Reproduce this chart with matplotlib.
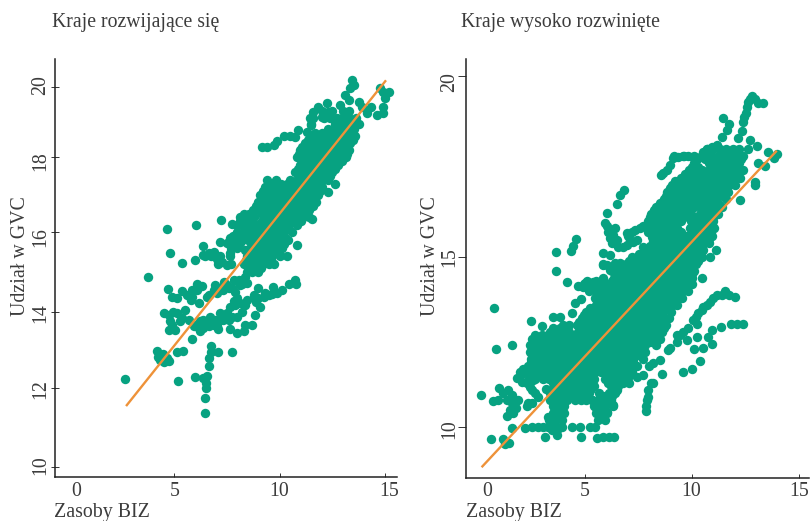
import matplotlib
matplotlib.use("Agg")
import matplotlib.pyplot as plt
import numpy as np

# Lewy panel: punkty
left_x = [2.7, 3.8, 4.68, 4.81, 5.38, 6.0, 6.06, 7.22, 7.74, 7.18, 6.36, 7.76, 5.19, 6.0, 6.48, 6.48, 6.53, 6.53,
          6.59, 6.37, 6.67, 6.67, 6.77, 6.77, 7.11, 5.85, 5.14, 5.43, 4.2, 4.5, 4.23, 4.35, 4.51, 4.67, 4.75,
          4.51, 4.75, 4.83, 4.75, 5.06, 4.9, 4.72, 4.9, 5.14, 5.38, 5.6, 5.85, 5.8, 6.17, 6.09, 6.33, 6.57, 6.96,
          7.03, 7.35, 7.59, 7.82, 8.14, 8.38, 8.45, 7.9, 7.3, 5.14, 5.38, 5.7, 5.54, 5.93, 6.25, 6.05, 6.4, 6.72,
          6.64, 7.03, 7.11, 6.96, 7.19, 7.5, 7.67, 7.82, 7.98, 7.67, 7.98, 8.3, 8.38, 8.69, 8.85, 7.59, 7.98,
          8.22, 8.38, 7.75, 7.3, 8.77, 9.0, 9.09, 8.9, 9.32, 9.7, 9.62, 10.13, 10.43, 10.74, 10.79, 9.16, 9.4,
          9.72, 9.87, 10.22, 10.5, 10.74, 10.85, 11.29, 11.5, 11.45, 11.6, 11.8, 12.24, 12.0, 12.3, 12.87, 13.1,
          13.34, 13.5, 13.42, 13.26, 13.74, 13.9, 14.13, 14.6, 14.9, 14.9, 15.0, 15.17, 14.73, 14.9, 14.3,
          12.6, 12.3, 11.53, 10.82]
left_y = [12.23, 14.88, 16.09, 15.48, 15.22, 15.29, 16.2, 16.32, 16.23, 15.75, 15.66, 12.96, 12.19, 12.29, 11.38,
          11.75, 12.0, 12.13, 12.32, 12.26, 12.58, 12.78, 12.96, 13.1, 12.96, 13.29, 12.94, 12.98, 12.98, 12.9,
          12.83, 12.75, 12.68, 12.79, 12.71, 13.97, 13.91, 13.77, 13.52, 13.52, 13.65, 14.56, 14.38, 14.34, 14.53,
          14.42, 14.55, 14.3, 14.21, 14.71, 14.64, 14.38, 14.67, 14.46, 14.76, 14.59, 14.8, 14.67, 14.88, 14.73,
          14.5, 14.55, 13.96, 13.83, 13.79, 14.04, 13.62, 13.5, 13.66, 13.79, 13.87, 13.62, 13.62, 13.54, 13.79,
          13.96, 13.96, 14.13, 14.26, 14.34, 13.54, 13.45, 13.5, 13.65, 13.65, 13.91, 13.79, 13.87, 14.0, 14.17,
          13.87, 13.79, 14.34, 14.59, 14.13, 14.25, 14.46, 14.63, 14.44, 14.55, 14.7, 14.8, 14.7, 18.29, 18.3,
          18.36, 18.47, 18.6, 18.6, 18.57, 18.77, 18.73, 18.92, 19.1, 19.29, 19.43, 19.53, 19.15, 19.29, 19.48,
          19.76, 19.95, 20.05, 20.19, 19.62, 19.58, 19.43, 19.25, 19.2, 19.25, 19.43, 19.67, 19.86, 19.97, 19.86,
          19.43, 17.3, 17.07, 16.35, 15.68]

# lancuchy miedzy pojedynczymi punktami
left_chain_x = [6.4, 6.64, 6.88, 7.03, 7.27, 7.51, 7.67, 7.82, 7.51, 7.67, 7.98, 8.14, 8.38, 8.61, 8.22, 8.53, 8.85,
                9.0, 8.3, 8.69, 6.64, 6.88, 7.19, 7.5, 7.74, 8.06, 8.22, 6.17, 6.4, 6.88, 6.56, 6.25, 7.19, 7.43,
                7.9, 8.14, 8.45, 9.0, 8.77, 9.24, 9.48, 9.87, 4.98, 5.3, 5.85, 6.09]
left_chain_y = [15.43, 15.47, 15.51, 15.34, 15.26, 15.18, 15.47, 15.64, 15.72, 15.85, 15.89, 15.72, 15.55, 16.06,
                16.37, 16.5, 16.6, 16.77, 16.14, 16.28, 14.42, 14.55, 14.59, 14.67, 14.59, 14.8, 14.71, 13.58, 13.58,
                13.66, 13.7, 13.75, 13.79, 13.92, 14.17, 14.21, 14.29, 14.34, 14.42, 14.38, 14.42, 14.48, 14.0,
                13.75, 14.38, 14.55]

left_band_y = [19.3, 19.1, 18.95, 18.8, 18.6, 18.4, 18.2, 18.0, 17.8, 17.6, 17.4, 17.2, 17.0, 16.8, 16.6, 16.4,
               16.2, 16.0, 15.8, 15.6, 15.4, 15.2, 15.0,
               18.7, 18.5, 18.3, 18.1, 17.9, 17.7, 17.5, 17.3, 17.1, 16.9, 16.7, 16.5, 16.3, 16.1, 15.9, 15.7,
               15.5, 15.3, 15.1]
left_band_x = [
    [12.0, 12.5, 13.0, 13.3],
    [11.6, 12.1, 12.4, 12.7, 13.0, 13.3, 13.6],
    [11.5, 12.6, 12.9, 13.2, 13.5, 13.75],
    [12.3, 12.6, 12.9, 13.2, 13.5],
    [11.5, 11.8, 12.1, 12.4, 12.7, 13.0, 13.3, 13.55],
    [11.2, 11.5, 11.8, 12.1, 12.4, 12.7, 13.0, 13.35],
    [10.95, 11.2, 11.5, 11.8, 12.1, 12.4, 12.7, 13.0, 13.3],
    [10.8, 11.05, 11.35, 11.65, 11.9, 12.2, 12.5, 12.8, 13.15],
    [10.95, 11.2, 11.5, 11.8, 12.1, 12.4, 12.75],
    [10.75, 11.0, 11.3, 11.6, 11.9, 12.2, 12.5],
    [9.4, 9.85, 10.5, 10.8, 11.1, 11.4, 11.7, 12.0, 12.3],
    [9.3, 9.6, 9.9, 10.2, 10.5, 10.8, 11.1, 11.4, 11.7, 12.0],
    [9.05, 9.35, 9.65, 9.95, 10.25, 10.55, 10.85, 11.15, 11.45, 11.8],
    [9.0, 9.3, 9.6, 9.9, 10.2, 10.5, 10.8, 11.1, 11.4, 11.7],
    [8.75, 9.05, 9.35, 9.65, 9.95, 10.25, 10.55, 10.85, 11.15, 11.4],
    [8.15, 8.45, 8.8, 9.3, 9.6, 9.9, 10.2, 10.5, 10.8, 11.1, 11.4],
    [8.0, 8.3, 8.6, 9.0, 9.3, 9.6, 9.9, 10.15, 10.45, 10.8],
    [8.0, 8.3, 8.6, 8.9, 9.2, 9.5, 9.8, 10.1, 10.6],
    [7.65, 7.9, 8.2, 8.5, 8.8, 9.1, 9.4, 9.7, 10.0, 10.4],
    [7.7, 8.0, 8.6, 8.9, 9.2, 9.5, 9.8, 10.1],
    [6.45, 6.75, 7.2, 7.65, 8.45, 8.75, 9.05, 9.35, 9.65, 10.0, 10.35],
    [7.1, 7.7, 8.3, 8.6, 8.9, 9.2, 9.5, 9.75],
    [8.45, 8.7, 9.0],
    [11.65, 12.0, 12.45, 12.75, 13.05, 13.35],
    [11.35, 11.65, 11.95, 12.25, 12.55, 12.85, 13.15, 13.45],
    [11.05, 11.35, 11.65, 11.95, 12.25, 12.55, 12.85, 13.15],
    [10.9, 11.2, 11.5, 11.8, 12.05, 12.35, 12.65, 12.95, 13.2],
    [11.1, 11.35, 11.65, 11.95, 12.25, 12.55, 12.95],
    [10.85, 11.1, 11.4, 11.7, 12.0, 12.3, 12.6],
    [10.9, 11.2, 11.5, 11.8, 12.1, 12.4],
    [9.45, 9.75, 10.05, 10.35, 10.65, 10.95, 11.25, 11.55, 11.85],
    [9.2, 9.5, 9.8, 10.1, 10.4, 10.7, 11.0, 11.3, 11.6, 11.9],
    [9.15, 9.45, 9.75, 10.05, 10.35, 10.65, 10.95, 11.25, 11.55],
    [8.9, 9.2, 9.5, 9.8, 10.1, 10.4, 10.7, 11.0, 11.3, 11.6],
    [8.3, 8.6, 9.15, 9.45, 9.75, 10.05, 10.35, 10.65, 10.95, 11.25],
    [8.15, 8.45, 9.15, 9.45, 9.75, 10.05, 10.35, 10.65, 11.0],
    [8.45, 8.75, 9.05, 9.35, 9.65, 9.95, 10.3],
    [7.8, 8.05, 8.35, 8.65, 8.95, 9.25, 9.55, 9.85, 10.2],
    [7.85, 8.75, 9.05, 9.35, 9.65, 9.95, 10.2],
    [8.55, 8.85, 9.15, 9.45, 9.75, 9.95],
    [8.4, 8.75, 9.05, 9.35, 9.6],
    [8.5, 8.8, 9.1],
]
left_fit_x = [2.74, 15.03]
left_fit_y = [11.55, 20.18]

# Prawy panel
right_x = [0.12, 0.72, 0.81, 1.56, 0.58, 1.16, 1.42, 1.25, 1.55, 3.1, 3.66, 4.78, 5.53, 5.84, 6.13, 6.34, 4.39,
           4.75, 5.22, 5.45, 2.17, 2.48, 2.8, 3.03, 3.27, 3.66, 3.42, 3.9, 2.47, 2.95, 3.06, 3.5, 3.81, 4.36, 3.58,
           3.61, 3.64, 4.16, 4.31, 4.44, 4.55, 4.64, 4.98, 5.38, 4.52, 4.78, 6.81, 6.63, 6.47, 6.0, 5.92, 6.39,
           6.08, 6.16, 6.47, 6.23, 5.84, 6.16, 5.81, 6.16, 5.84, 6.16, 6.94, 7.17, 7.56, 7.95, 8.19, 7.72, 7.09,
           7.41, 6.78, 8.53, 8.81, 9.13, 9.59, 10.06, 10.69, 11.16, 11.39, 11.63, 11.75, 11.45, 12.33, 12.41,
           12.52, 12.64, 12.83, 13.11, 13.31, 12.72, 13.03, 13.58, 13.97, 13.84, 13.42, 13.11, 12.95, 12.95, 12.25,
           12.0, 11.55, 11.39, 11.0, 10.69, 10.45, 10.17, 10.25, 9.83, 9.28, 9.28, 9.75, 10.25, 10.92, 10.77,
           10.95, 10.53, 10.11, 10.38, 9.98, 9.56, 11.34, 11.81, 12.09, 12.38, 8.97, 8.61, 8.5, 8.19, 7.84, 7.88,
           7.95, 8.19, 7.72, 7.05, 7.41, 1.78, 2.02, 2.25, 2.48, 2.8, 0.97, 1.39, 1.86, 0.69, 0.92, 1.31, 1.55,
           1.75, 1.34, 2.25, 2.48, 2.56, 3.16, 5.84, 5.53, 6.0, 6.31, 6.0, 6.47, 6.63, 5.69, 5.3, 4.59, 4.3, 3.97]
right_y = [10.94, 13.5, 12.3, 12.4, 9.64, 9.65, 9.53, 9.5, 9.97, 9.7, 9.75, 9.7, 9.68, 9.7, 9.7, 9.7, 10.0, 10.0,
           10.0, 10.0, 9.95, 10.0, 10.0, 10.0, 10.3, 10.0, 10.1, 10.0, 13.13, 12.98, 12.68, 13.25, 13.23, 13.35,
           12.76, 15.14, 14.6, 14.26, 15.16, 15.3, 15.5, 14.16, 14.23, 14.28, 13.64, 13.76, 16.86, 16.72, 16.46,
           16.21, 15.94, 15.8, 15.71, 15.52, 15.48, 15.39, 15.11, 15.06, 14.77, 14.63, 14.38, 14.13, 15.68, 15.71,
           15.8, 15.71, 15.46, 15.29, 15.48, 15.48, 15.29, 17.27, 17.41, 17.73, 17.78, 17.76, 18.0, 18.1, 18.33,
           18.51, 18.69, 18.85, 18.47, 18.74, 18.97, 19.29, 19.46, 19.26, 19.26, 18.24, 18.07, 17.91, 17.85, 17.73,
           17.52, 17.61, 17.0, 17.09, 16.58, 13.82, 14.02, 13.89, 13.79, 13.59, 13.44, 13.25, 13.03, 12.9, 12.7,
           12.5, 12.56, 12.64, 12.85, 12.66, 12.44, 12.31, 12.28, 11.95, 11.7, 11.6, 12.95, 13.03, 13.03, 13.03,
           12.33, 11.55, 11.97, 11.87, 10.6, 10.79, 11.08, 11.28, 11.53, 11.28, 11.48, 11.43, 11.57, 11.28, 11.08,
           10.89, 11.13, 11.08, 10.79, 10.77, 10.79, 10.79, 10.69, 10.54, 10.31, 10.61, 10.69, 11.38, 11.1, 10.3,
           10.5, 10.44, 10.64, 10.89, 11.08, 11.28, 10.89, 10.8, 10.89, 10.95, 10.79]

right_chain_x = [11.75, 11.16, 10.84, 10.53, 10.3, 10.06, 9.59, 9.44, 8.89, 7.95, 7.84, 8.06, 8.66, 8.97, 9.36, 9.83,
                 10.38, 10.53, 10.92, 12.17, 12.45, 12.56, 12.72, 12.95, 7.33, 7.72, 8.11, 7.02, 7.25, 6.94, 6.31,
                 6.0, 6.55, 6.0, 6.39, 6.63, 4.9, 5.22, 5.53, 5.69, 1.16, 1.55, 1.7, 2.02, 2.41, 2.64, 1.63, 1.47,
                 2.33, 3.27, 3.42, 3.66]
right_chain_y = [13.89, 13.89, 13.69, 13.52, 13.35, 13.15, 12.8, 12.7, 12.27, 10.89, 10.45, 11.28, 17.32, 17.55, 17.76,
                 17.78, 17.76, 17.91, 18.05, 18.28, 18.88, 19.14, 19.36, 19.36, 15.75, 15.85, 15.57, 15.59, 15.43,
                 15.34, 15.62, 15.85, 15.29, 14.77, 14.83, 14.83, 14.13, 14.08, 14.04, 14.23, 10.98, 10.94, 10.79,
                 11.33, 11.18, 10.98, 10.39, 10.49, 10.69, 10.0, 9.9, 9.9]

right_band_y = [18.0, 17.8, 17.6, 17.4, 17.2, 17.0, 16.8, 16.6, 16.4, 16.2, 16.0, 15.8, 15.6, 15.4, 15.2, 15.0,
                14.8, 14.6, 14.4, 14.2, 14.0, 13.8, 13.6, 13.4, 13.2, 13.0, 12.8, 12.6, 12.4, 12.2, 12.0, 11.8,
                11.6, 11.4, 11.2, 11.0, 10.8, 10.6, 10.4, 10.2,
                17.7, 17.5, 17.3, 17.1, 16.9, 16.7, 16.5, 16.3, 16.1, 15.9, 15.7, 15.5, 15.3, 15.1, 14.9, 14.7,
                14.5, 14.3, 14.1, 13.9, 13.7, 13.5, 13.3, 13.1, 12.9, 12.7, 12.5, 12.3, 12.1, 11.9, 11.7, 11.5,
                11.3, 11.1, 10.9, 10.7, 10.5, 10.3]
right_band_x = [
    [10.7, 11.0, 11.3, 11.6, 11.9, 12.2, 12.6],
    [9.15, 9.6, 10.1, 10.6, 10.9, 11.2, 11.5, 11.8, 12.1, 12.4],
    [10.1, 10.8, 11.05, 11.35, 11.65, 11.95, 12.2],
    [9.85, 10.15, 10.45, 10.8, 11.1, 11.4, 11.7, 12.0, 12.4],
    [9.5, 9.8, 10.1, 10.4, 10.7, 11.0, 11.3, 11.6, 11.9, 12.25],
    [9.05, 9.35, 9.65, 9.95, 10.25, 10.55, 10.85, 11.15, 11.45, 11.75, 12.0],
    [8.85, 9.15, 9.45, 9.75, 10.05, 10.35, 10.65, 10.95, 11.25, 11.7],
    [8.7, 9.0, 9.3, 9.6, 9.9, 10.2, 10.5, 10.8, 11.1, 11.6],
    [8.3, 8.6, 8.9, 9.2, 9.5, 9.8, 10.1, 10.4, 10.7, 11.0, 11.4],
    [8.1, 8.4, 8.7, 9.0, 9.3, 9.6, 9.95, 10.35, 10.65, 10.95, 11.2],
    [7.95, 8.25, 8.55, 8.85, 9.15, 9.5, 9.95, 10.25, 10.55, 10.85, 11.0],
    [8.2, 8.5, 8.8, 9.05, 9.3, 9.9, 10.2, 10.5, 10.8, 11.05],
    [8.55, 8.85, 9.15, 9.45, 9.75, 10.05, 10.35, 10.65, 10.95],
    [8.3, 8.6, 8.9, 9.2, 9.5, 9.8, 10.1, 10.4, 10.8],
    [7.8, 8.1, 8.4, 8.7, 9.0, 9.3, 9.6, 9.9, 10.2, 10.5, 11.1],
    [7.2, 7.5, 7.8, 8.1, 8.4, 8.7, 9.0, 9.3, 9.6, 9.9, 10.2, 10.45, 10.85],
    [5.85, 6.6, 6.9, 7.2, 7.5, 7.8, 8.1, 8.4, 8.7, 9.0, 9.3, 9.6, 9.9, 10.2],
    [6.25, 6.55, 6.85, 7.15, 7.45, 7.75, 8.05, 8.35, 8.65, 8.95, 9.25, 9.55, 9.85, 10.1],
    [6.35, 6.7, 7.0, 7.3, 7.6, 7.9, 8.2, 8.5, 8.8, 9.1, 9.4, 9.7, 10.0, 10.45],
    [4.95, 5.35, 5.65, 6.05, 6.4, 6.7, 7.0, 7.3, 7.6, 7.9, 8.2, 8.5, 8.8, 9.1, 9.4, 9.7, 10.0],
    [5.15, 5.5, 5.95, 6.25, 6.55, 6.85, 7.15, 7.45, 7.75, 8.05, 8.35, 8.65, 8.95, 9.25, 9.55, 9.8],
    [5.45, 5.75, 6.05, 6.35, 6.65, 6.95, 7.25, 7.55, 7.85, 8.15, 8.45, 8.75, 9.05, 9.35, 9.55],
    [5.5, 5.8, 6.1, 6.4, 6.7, 7.0, 7.3, 7.6, 7.9, 8.2, 8.5, 8.8, 9.1, 9.3],
    [5.05, 5.35, 5.65, 5.95, 6.25, 6.55, 6.85, 7.15, 7.45, 7.75, 8.05, 8.35, 8.65, 9.0],
    [4.85, 5.15, 5.45, 5.75, 6.05, 6.35, 6.65, 6.95, 7.25, 7.55, 7.85, 8.15, 8.45, 8.9],
    [3.95, 4.25, 4.6, 4.9, 5.2, 5.5, 5.8, 6.1, 6.4, 6.7, 7.0, 7.3, 7.6, 7.9, 8.2, 8.5, 8.8],
    [3.35, 3.65, 3.95, 4.25, 4.65, 4.95, 5.25, 5.55, 5.85, 6.15, 6.45, 6.75, 7.05, 7.35, 7.65, 7.95, 8.25, 8.6],
    [2.5, 2.8, 3.1, 3.4, 3.7, 4.0, 4.3, 4.6, 4.9, 5.2, 5.5, 5.8, 6.1, 6.4, 6.7, 7.0, 7.3, 7.6, 7.9, 8.2, 8.5],
    [2.4, 2.7, 3.0, 3.3, 3.6, 3.9, 4.2, 4.5, 4.8, 5.1, 5.4, 5.7, 6.0, 6.3, 6.6, 6.9, 7.2, 7.5, 7.8, 8.3],
    [2.4, 2.7, 3.0, 3.3, 3.6, 3.9, 4.2, 4.5, 4.8, 5.1, 5.4, 5.7, 6.0, 6.3, 6.6, 6.9, 7.2, 7.5, 7.8],
    [2.45, 2.75, 3.05, 3.35, 3.65, 3.95, 4.25, 4.55, 4.85, 5.15, 5.45, 5.75, 6.05, 6.35, 6.65, 6.95, 7.25, 7.7],
    [2.3, 2.6, 2.9, 3.2, 3.5, 3.8, 4.1, 4.4, 4.7, 5.0, 5.3, 5.6, 5.9, 6.2, 6.5, 6.8, 7.1, 7.4, 8.0],
    [1.95, 2.2, 2.6, 3.0, 3.35, 3.65, 3.95, 4.25, 4.55, 4.85, 5.15, 5.45, 5.75, 6.05, 6.35, 6.65, 6.9, 7.2],
    [2.35, 2.65, 3.0, 3.3, 3.6, 3.9, 4.2, 4.5, 4.8, 5.1, 5.4, 5.9, 6.1, 6.35, 6.6, 6.9],
    [3.65, 3.95, 4.25, 4.55, 4.85, 5.15, 5.4, 6.2, 6.55],
    [3.35, 3.65, 3.95, 4.25, 4.55, 4.85, 5.15, 5.65, 6.1, 6.4],
    [3.35, 3.65, 3.9, 4.15, 4.5, 4.8, 5.05, 5.3, 5.7, 5.95, 6.2],
    [3.5, 3.75, 4.0, 5.4, 5.65, 5.9, 6.3],
    [3.5, 3.75, 4.0, 5.5, 5.75, 6.0],
    [3.3, 3.6, 3.9, 5.6, 5.9],
    [10.25, 10.6, 10.95, 11.2, 11.5, 11.8, 12.1, 12.3],
    [10.0, 10.3, 10.95, 11.25, 11.55, 11.85, 12.1],
    [9.65, 9.95, 10.25, 10.55, 10.85, 11.15, 11.45, 11.75, 12.05],
    [9.2, 9.5, 9.8, 10.1, 10.4, 10.7, 11.0, 11.3, 11.6, 11.9],
    [8.95, 9.25, 9.55, 9.85, 10.15, 10.45, 10.75, 11.05, 11.35, 11.6],
    [8.8, 9.1, 9.4, 9.7, 10.0, 10.3, 10.6, 10.9, 11.2, 11.5],
    [8.5, 8.8, 9.1, 9.4, 9.7, 10.0, 10.3, 10.6, 10.9, 11.2],
    [8.2, 8.5, 8.8, 9.1, 9.4, 9.7, 10.45, 10.75, 11.05],
    [8.05, 8.35, 8.65, 8.95, 9.25, 9.6, 10.1, 10.4, 10.7, 11.0],
    [8.1, 8.4, 8.7, 8.95, 9.2, 10.05, 10.35, 10.65, 10.95],
    [8.35, 8.65, 8.95, 9.2, 9.5, 10.0, 10.3, 10.6, 10.9],
    [8.45, 8.75, 9.05, 9.35, 9.65, 9.95, 10.25, 10.55, 10.8],
    [8.05, 8.35, 8.65, 8.95, 9.25, 9.55, 9.85, 10.15, 10.45],
    [7.5, 7.95, 8.25, 8.55, 8.85, 9.15, 9.45, 9.75, 10.05, 10.35],
    [7.05, 7.35, 7.65, 7.95, 8.25, 8.55, 8.85, 9.15, 9.45, 9.75, 10.05, 10.3],
    [6.4, 6.7, 7.0, 7.3, 7.6, 7.9, 8.2, 8.5, 8.8, 9.1, 9.4, 9.7, 10.0],
    [6.4, 6.7, 7.0, 7.3, 7.6, 7.9, 8.2, 8.5, 8.8, 9.1, 9.4, 9.7, 10.0],
    [5.1, 5.5, 6.25, 6.55, 6.85, 7.15, 7.45, 7.75, 8.05, 8.35, 8.65, 8.95, 9.25, 9.55, 9.85],
    [5.3, 5.8, 6.1, 6.4, 6.7, 7.0, 7.3, 7.6, 7.9, 8.2, 8.5, 8.8, 9.1, 9.4, 9.7],
    [5.6, 5.9, 6.2, 6.5, 6.8, 7.1, 7.4, 7.7, 8.0, 8.3, 8.6, 8.9, 9.2, 9.45],
    [5.6, 5.95, 6.25, 6.55, 6.85, 7.15, 7.45, 7.75, 8.05, 8.35, 8.65, 8.95, 9.2],
    [5.2, 5.5, 5.8, 6.1, 6.4, 6.7, 7.0, 7.3, 7.6, 7.9, 8.2, 8.5, 8.85],
    [4.95, 5.25, 5.55, 5.85, 6.15, 6.45, 6.75, 7.05, 7.35, 7.65, 7.95, 8.25, 8.6],
    [4.7, 5.0, 5.3, 5.6, 5.9, 6.2, 6.5, 6.8, 7.1, 7.4, 7.7, 8.0, 8.3, 8.6],
    [3.5, 3.8, 4.1, 4.75, 5.05, 5.35, 5.65, 5.95, 6.25, 6.55, 6.85, 7.15, 7.45, 7.75, 8.05, 8.35, 8.7],
    [2.65, 2.95, 3.25, 3.55, 3.85, 4.15, 4.45, 4.75, 5.05, 5.35, 5.65, 5.95, 6.25, 6.55, 6.85, 7.15, 7.45, 7.75,
     8.05, 8.35],
    [2.55, 2.85, 3.15, 3.45, 3.75, 4.05, 4.35, 4.65, 4.95, 5.25, 5.55, 5.85, 6.15, 6.45, 6.75, 7.05, 7.35, 7.65,
     8.05],
    [2.55, 2.85, 3.15, 3.45, 3.75, 4.05, 4.35, 4.65, 4.95, 5.25, 5.55, 5.85, 6.15, 6.45, 6.75, 7.05, 7.35, 7.65],
    [2.55, 2.85, 3.15, 3.45, 3.75, 4.05, 4.35, 4.65, 4.95, 5.25, 5.55, 5.85, 6.15, 6.45, 6.75, 7.05, 7.35, 7.6],
    [2.45, 2.75, 3.05, 3.35, 3.65, 3.95, 4.25, 4.55, 4.85, 5.15, 5.45, 5.75, 6.05, 6.35, 6.65, 6.95, 7.25],
    [2.1, 2.45, 2.75, 3.15, 3.5, 3.8, 4.1, 4.4, 4.7, 5.0, 5.3, 5.6, 5.9, 6.2, 6.5, 6.8, 7.05],
    [2.4, 2.8, 3.15, 3.5, 3.8, 4.1, 4.4, 4.7, 5.0, 5.3, 6.0, 6.25, 6.5, 6.75, 7.05],
    [3.5, 3.8, 4.1, 4.4, 4.7, 5.0, 5.25, 6.05, 6.4, 6.75],
    [3.5, 3.8, 4.1, 4.4, 4.7, 5.0, 5.25, 6.35],
    [3.5, 3.8, 4.05, 4.3, 4.65, 5.0, 5.9, 6.25],
    [3.6, 3.85, 5.5, 5.8, 6.1],
    [3.6, 3.85, 5.55, 5.85],
    [3.45, 3.75, 5.7],
]
right_fit_x = [0.14, 13.97]
right_fit_y = [8.8, 17.94]

x_ticks = [5, 10, 15]
left_y_ticks = [10, 12, 14, 16, 18, 20]
right_y_ticks = [10, 15, 20]

WIDTH, HEIGHT = 812, 521
GREEN = "#07a281"
ORANGE = "#ee9239"
TEXT = "#3c3c3c"
SERIF = "Liberation Serif"

fig = plt.figure(figsize=(WIDTH / 100, HEIGHT / 100), dpi=100)


def put_text(x, y, s, size=14.3, rotation=0, ha="center"):
    fig.text(x / WIDTH, 1 - y / HEIGHT, s, fontsize=size, rotation=rotation, ha=ha, va="center",
             family=SERIF, color=TEXT, rotation_mode="anchor")


def make_panel(box, xlim, y_vals, y_px, ylim, ticks, tick_dir):
    x0, x1, top, bottom = box
    ax = fig.add_axes([x0 / WIDTH, 1 - bottom / HEIGHT, (x1 - x0) / WIDTH, (bottom - top) / HEIGHT])
    # os pionowa w oryginale nie jest rowna, skala idzie po odczytanych pozycjach podzialek
    neg_px = [-p for p in y_px]
    ax.set_yscale("function", functions=(lambda v: np.interp(v, y_vals, neg_px),
                                         lambda u: np.interp(u, neg_px, y_vals)))
    ax.set_xlim(*xlim)
    ax.set_ylim(*ylim)
    ax.set_xticks(x_ticks)
    ax.set_yticks(ticks)
    ax.set_xticklabels([])
    ax.set_yticklabels([])
    ax.minorticks_off()
    ax.tick_params(axis="x", direction="in", length=3, width=0.7, color="#333333")
    ax.tick_params(axis="y", direction=tick_dir, length=6, width=0.7, color="#333333")
    for side in ["top", "right"]:
        ax.spines[side].set_visible(False)
    for side in ["left", "bottom"]:
        ax.spines[side].set_linewidth(1.1)
        ax.spines[side].set_color("#222222")
    return ax


def draw_points(ax, xs, ys, chain_x, chain_y, band_x, band_y, fit_x, fit_y):
    ax.scatter(xs, ys, s=46, color=GREEN, linewidths=0, clip_on=False, zorder=2)
    ax.scatter(chain_x, chain_y, s=46, color=GREEN, linewidths=0, zorder=2)
    for level, row in zip(band_y, band_x):
        ax.scatter(row, [level] * len(row), s=46, color=GREEN, linewidths=0, zorder=2)
    ax.plot(fit_x, fit_y, color=ORANGE, lw=1.7, zorder=3, solid_capstyle="butt")


ax1 = make_panel((55, 397, 59.3, 477.3), (-0.62, 15.55),
                 [9.76, 10, 12, 14, 16, 18, 20, 20.77],
                 [477.3, 467.3, 388.3, 311.7, 232.3, 157.3, 86.7, 59.3],
                 (9.76, 20.77), left_y_ticks, "inout")
draw_points(ax1, left_x, left_y, left_chain_x, left_chain_y, left_band_x, left_band_y, left_fit_x, left_fit_y)

ax2 = make_panel((465.7, 809, 59.3, 477.7), (-0.605, 15.48),
                 [8.49, 10, 15, 20, 20.46],
                 [477.7, 426.7, 257.3, 76, 59.3],
                 (8.49, 20.46), right_y_ticks, "out")
draw_points(ax2, right_x, right_y, right_chain_x, right_chain_y, right_band_x, right_band_y, right_fit_x, right_fit_y)

# etykiety stoja w oryginale obok podzialek, wiec ustawione recznie
for label, x in zip(["0", "5", "10", "15"], [76, 174.3, 279.3, 389]):
    put_text(x, 491, label)
for label, x in zip(["0", "5", "10", "15"], [486.7, 584.7, 691, 799]):
    put_text(x, 491, label)
for label, y in zip(["20", "18", "16", "14", "12", "10"], [85, 161, 237, 312.7, 389, 465]):
    put_text(41, y, label, rotation=90)
for label, y in zip(["20", "15", "10"], [82.5, 256.7, 429]):
    put_text(449.5, y, label, rotation=90)

put_text(54, 512, "Zasoby BIZ", ha="left")
put_text(465.7, 512, "Zasoby BIZ", ha="left")
put_text(21, 256, "Udział w GVC", rotation=90)
put_text(431, 256, "Udział w GVC", rotation=90)
put_text(52, 22, "Kraje rozwijające się", size=14.2, ha="left")
put_text(461, 22, "Kraje wysoko rozwinięte", size=14.2, ha="left")

fig.savefig("out.png", dpi=100)
